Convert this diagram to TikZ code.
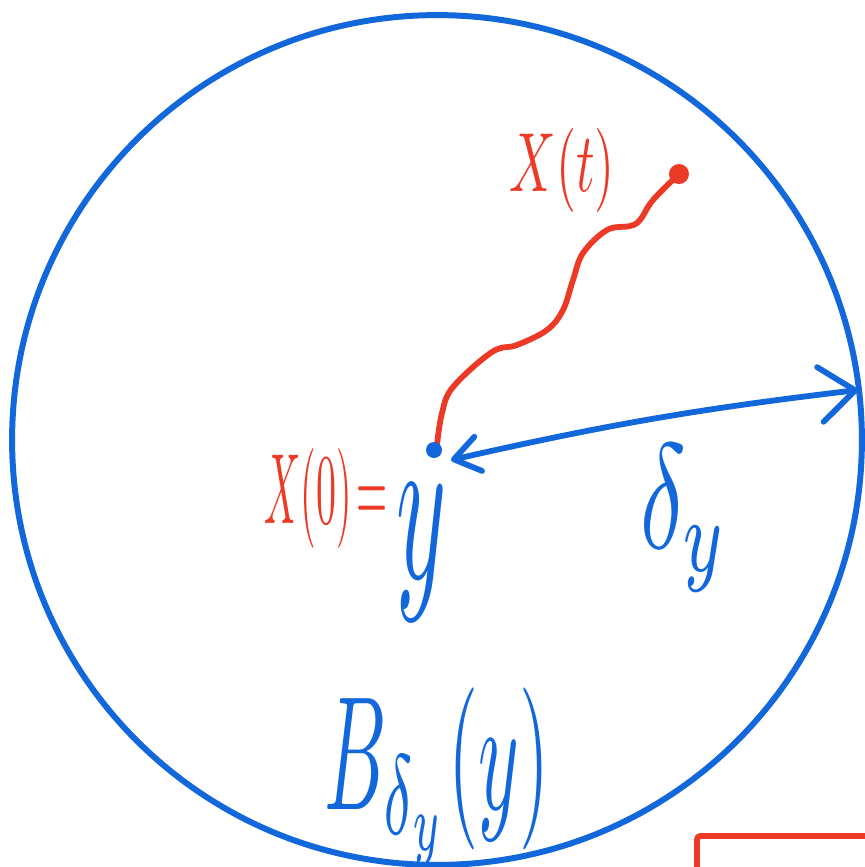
\documentclass[tikz,border=0pt]{standalone}
\usepackage{amssymb}
\usepackage{graphicx}
\usepackage{tikz}
\usetikzlibrary{arrows.meta,positioning,calc}
\usepackage{xcolor}
\definecolor{blueink}{RGB}{18,103,218}
\definecolor{redink}{RGB}{236,58,38}

\begin{document}
\begin{tikzpicture}[
    x=0.02cm, y=-0.02cm,
    ballrim/.style={
        draw=blueink,
        line width=3.4pt
    },
    redpath/.style={
        draw=redink,
        line width=3.3pt,
        line cap=round
    },
    bluelabel/.style={
        inner sep=0pt,
        text=blueink
    },
    redlabel/.style={
        inner sep=0pt,
        text=redink
    },
    radiusarrow/.style={
        {Straight Barb[length=5mm,width=7mm,round]}-{Straight Barb[length=7mm,width=11mm,round]},
        draw=blueink,
        line width=3.3pt,
        line cap=round
    }
]

\useasboundingbox (0,0) rectangle (865,867);
\clip (0,0) rectangle (865,867);

% the ball and its points
\coordinate (centre) at (437,440);
\coordinate (y) at (434,450);
\coordinate (xt) at (679,174);
\coordinate (tip) at (451,460);
\coordinate (rim) at (858,390);

\draw[ballrim] (centre) circle[radius=8.5cm];

% labels
\node[redlabel] (lxt) at (562,170)
{\resizebox*{2.1cm}{1.68cm}{$X(t)$}};

\node[redlabel] (lx0) at (326,498)
{\resizebox*{2.46cm}{2cm}{$X(0)\!=$}};

\node[bluelabel] (ly) at (422,553)
{\resizebox*{1cm}{2.74cm}{$y$}};

\node[bluelabel] (ldelta) at (684,518)
{\resizebox*{1.76cm}{2.94cm}{$\delta_y$}};

\node[bluelabel] (lball) at (437,777)
{\resizebox*{4.5cm}{3.56cm}{$B_{\delta_y}(y)$}};

% the path of X
\draw[redpath] plot[smooth, tension=0.6] coordinates {
    (437,445) (442,413) (453,387) (492,352) (517,345) (547,330)
    (563,310) (573,280) (583,253) (607,230) (630,226) (640,220)
    (653,200) (xt)};

\fill[redink] (xt) circle[radius=0.2cm];
\fill[blueink] (y) circle[radius=0.16cm];

% the radius
\draw[radiusarrow] (tip) to[bend left=3] (rim);

% corner of the next box
\draw[redpath, line cap=butt, rounded corners=2pt] (697,900) -- (697,836) -- (900,836);

\end{tikzpicture}
\end{document}
